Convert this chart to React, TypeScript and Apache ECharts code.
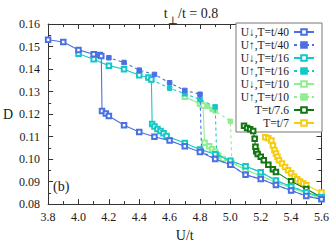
import React, { useEffect, useRef } from "react";
import * as echarts from "echarts";

const xTicks = [3.8, 5.6, 0.2];
const yTicks = [0.08, 0.16, 0.01];

const names = [
  "U↓,T=t/40",
  "U↑,T=t/40",
  "U↓,T=t/16",
  "U↑,T=t/16",
  "U↓,T=t/10",
  "U↑,T=t/10",
  "T=t/7.6",
  "T=t/7",
];
const colors = ["#4a70e2", "#4a70e2", "#14c8c8", "#14c8c8", "#90ee90", "#90ee90", "#127512", "#f5cc10"];

const U1 = [3.8, 3.9, 4.0, 4.1, 4.14, 4.15, 4.155, 4.18, 4.2, 4.3, 4.4, 4.5, 4.6, 4.7, 4.8, 4.9, 5.0, 5.1, 5.2, 5.3, 5.4, 5.5, 5.6];
const D1 = [0.153, 0.152, 0.1485, 0.1466, 0.1462, 0.1458, 0.1213, 0.1202, 0.1191, 0.115, 0.112, 0.1099, 0.1082, 0.1057, 0.1031, 0.1, 0.0975, 0.093, 0.0911, 0.0885, 0.086, 0.0836, 0.0821];

const U2 = [4.15, 4.2, 4.3, 4.4, 4.5, 4.6, 4.7, 4.8, 4.81, 4.9, 5.0, 5.1, 5.2, 5.3, 5.4, 5.5, 5.6];
const D2 = [0.1458, 0.145, 0.1429, 0.1395, 0.1376, 0.1339, 0.1305, 0.1288, 0.1035, 0.1, 0.0975, 0.093, 0.0911, 0.0885, 0.086, 0.0836, 0.0821];

const U3 = [4.0, 4.1, 4.2, 4.3, 4.4, 4.46, 4.48, 4.485, 4.5, 4.52, 4.54, 4.56, 4.58, 4.7, 4.8, 4.9, 5.0, 5.1, 5.2, 5.3, 5.4, 5.5, 5.6];
const D3 = [0.1468, 0.1443, 0.1415, 0.1399, 0.1372, 0.1362, 0.1353, 0.1156, 0.1145, 0.1134, 0.1125, 0.1115, 0.1102, 0.1071, 0.1043, 0.1021, 0.0993, 0.0968, 0.0942, 0.0905, 0.0878, 0.0853, 0.083];

const U4 = [4.48, 4.6, 4.7, 4.8, 4.9, 4.91, 5.0, 5.1, 5.2, 5.3, 5.4, 5.5, 5.6];
const D4 = [0.1353, 0.1315, 0.129, 0.1265, 0.1232, 0.1021, 0.0993, 0.0968, 0.0942, 0.0905, 0.0878, 0.0853, 0.083];

const U5 = [4.7, 4.8, 4.82, 4.83, 4.86, 4.88, 4.9, 4.92, 4.95, 5.0, 5.1, 5.2, 5.3, 5.4, 5.5, 5.6];
const D5 = [0.1277, 0.1246, 0.1238, 0.1072, 0.1057, 0.1044, 0.1032, 0.1015, 0.1, 0.0986, 0.0953, 0.0925, 0.0897, 0.0872, 0.0848, 0.0826];

const U6 = [4.7, 4.8, 4.85, 4.88, 4.9, 5.0, 5.01, 5.1, 5.2, 5.3, 5.4, 5.5, 5.6];
const D6 = [0.1277, 0.1246, 0.1234, 0.122, 0.1214, 0.1168, 0.0986, 0.0953, 0.0925, 0.0897, 0.0872, 0.0848, 0.0826];

const U7 = [5.09, 5.11, 5.13, 5.15, 5.16, 5.165, 5.17, 5.18, 5.2, 5.22, 5.25, 5.28, 5.3, 5.4, 5.5, 5.6];
const D7 = [0.1148, 0.1138, 0.1132, 0.1125, 0.109, 0.1055, 0.1035, 0.1022, 0.101, 0.0995, 0.0975, 0.0955, 0.0943, 0.0901, 0.0867, 0.083];

const U8 = [5.23, 5.25, 5.27, 5.28, 5.29, 5.3, 5.31, 5.32, 5.34, 5.36, 5.38, 5.4, 5.42, 5.44, 5.46, 5.48, 5.5, 5.6];
const D8 = [0.1097, 0.1093, 0.1083, 0.106, 0.104, 0.1025, 0.101, 0.0995, 0.098, 0.0965, 0.095, 0.0937, 0.0922, 0.091, 0.09, 0.0892, 0.0884, 0.0852];

const Us = [U1, U2, U3, U4, U5, U6, U7, U8];
const Ds = [D1, D2, D3, D4, D5, D6, D7, D8];
const filled = [false, true, false, true, false, true, false, false];

const FONT = "'Liberation Serif', 'DejaVu Serif', serif";
const AX = "#333";
const TXT = "#1a1a1a";

export default function App() {
  const ref = useRef<HTMLDivElement>(null);
  useEffect(() => {
    if (!ref.current) return;
    const chart = echarts.init(ref.current, undefined, { renderer: "svg" });
    const series = names.map((name, i) => ({
      name,
      type: "line",
      data: Us[i].map((u, j) => [u, Ds[i][j]]),
      symbol: filled[i] ? "rect" : "emptyRect",
      symbolSize: 4.5,
      color: colors[i],
      itemStyle: { color: colors[i], borderColor: colors[i], borderWidth: 1 },
      lineStyle: { color: colors[i], width: 1.1, type: filled[i] ? [3, 3] : "solid" },
      z: 10 - i,
    }));
    const tickCommon = {
      splitLine: { show: false },
      axisLine: { show: true, onZero: false, lineStyle: { color: AX, width: 1 } },
      axisTick: { show: true, inside: true, length: 5, lineStyle: { color: AX } },
      minorTick: { show: true, splitNumber: 2, length: 3, lineStyle: { color: AX } },
    };
    const xBase = { type: "value", min: xTicks[0], max: xTicks[1], interval: xTicks[2], ...tickCommon };
    const yBase = { type: "value", min: yTicks[0], max: yTicks[1], interval: yTicks[2], ...tickCommon };
    chart.setOption({
      animation: false,
      textStyle: { fontFamily: FONT },
      grid: { left: 47, right: 7, top: 24, bottom: 35 },
      title: {
        text: "{a|t}{b|⊥}{a|/t = 0.8}",
        left: 186,
        textAlign: "center",
        top: 0,
        textStyle: {
          fontFamily: FONT,
          fontWeight: "normal",
          rich: {
            a: { fontFamily: FONT, fontWeight: "normal", fontSize: 14, color: TXT, lineHeight: 20, verticalAlign: "top", padding: [1, 0, 0, 0] },
            b: { fontFamily: FONT, fontWeight: "normal", fontSize: 11, color: TXT, lineHeight: 20, verticalAlign: "bottom" },
          },
        },
      },
      legend: {
        orient: "vertical",
        left: 236,
        top: 23,
        align: "right",
        padding: [3, 7, 3, 3],
        itemGap: 1,
        itemWidth: 20,
        itemHeight: 7,
        backgroundColor: "#fff",
        borderColor: "#777",
        borderWidth: 1,
        borderRadius: 0,
        data: names,
        formatter: (n: string) => `{t|${n}}`,
        textStyle: {
          fontFamily: FONT,
          rich: {
            t: { fontFamily: FONT, fontSize: 11.5, color: TXT, width: 50, align: "right", lineHeight: 11 },
          },
        },
      },
      xAxis: [
        {
          ...xBase,
          position: "bottom",
          name: "U/t",
          nameLocation: "middle",
          nameGap: 22,
          nameTextStyle: { fontFamily: FONT, fontSize: 14, color: TXT },
          axisLabel: { fontFamily: FONT, fontSize: 12, color: TXT, margin: 7, formatter: (v: number) => v.toFixed(1) },
        },
        { ...xBase, position: "top", axisLabel: { show: false } },
      ],
      yAxis: [
        {
          ...yBase,
          position: "left",
          name: "D",
          nameLocation: "middle",
          nameRotate: 0,
          nameGap: 35,
          nameTextStyle: { fontFamily: FONT, fontSize: 14, color: TXT },
          axisLabel: { fontFamily: FONT, fontSize: 12, color: TXT, margin: 8, formatter: (v: number) => v.toFixed(2) },
        },
        { ...yBase, position: "right", axisLabel: { show: false } },
      ],
      graphic: [
        {
          type: "text",
          left: 53,
          top: 179,
          style: { text: "(b)", fontFamily: FONT, fontSize: 14, fill: TXT },
        },
      ],
      series,
    });
    return () => chart.dispose();
  }, []);
  return <div ref={ref} style={{ width: 332, height: 247, position: "absolute", left: 0, top: 0 }} />;
}
